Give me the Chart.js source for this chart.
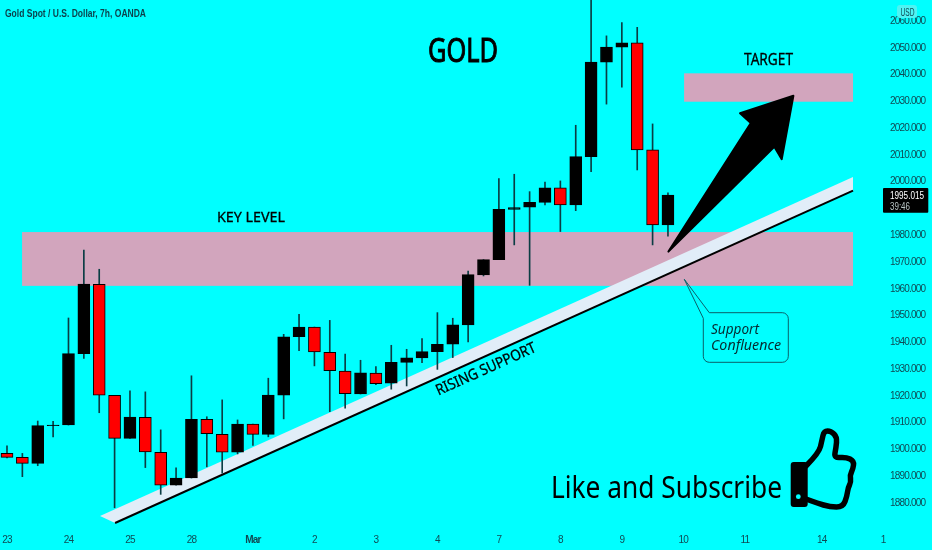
<!DOCTYPE html>
<html>
<head>
  <title>Gold Spot / U.S. Dollar</title>
  <script src="https://cdn.jsdelivr.net/npm/chart.js"></script>
  <style>
    body { margin: 0; padding: 0; background: #00ffff; overflow: hidden; }
    #chart { display: block; width: 932px !important; height: 550px !important; }
  </style>
</head>
<body>
  <canvas id="chart" width="932" height="550"></canvas>
  <script>
    // candles, oldest first
    const opens = [1898.5,1897.0,1894.8,1908.9,1909.1,1935.8,1961.7,1920.2,1904.1,1912.0,1898.9,1886.6,1889.3,1911.2,1905.6,1899.0,1909.5,1905.6,1920.3,1942.1,1945.7,1936.3,1929.3,1920.7,1928.5,1924.7,1932.5,1934.2,1936.5,1939.3,1946.5,1965.2,1970.9,1989.7,1990.5,1992.3,1997.7,1991.3,2009.4,2044.7,2050.3,2051.9,2011.9,1983.9];
    const highs = [1901.3,1898.5,1910.6,1910.5,1949.1,1974.5,1967.3,1920.2,1921.9,1921.5,1907.3,1893.1,1927.5,1912.2,1918.5,1911.0,1909.5,1926.6,1943.0,1950.5,1945.7,1948.2,1935.6,1933.3,1930.9,1938.9,1937.4,1941.4,1951.1,1949.0,1966.6,1970.9,2001.2,2002.8,1996.3,1999.9,2000.3,2021.1,2072.0,2054.5,2059.5,2057.7,2021.6,1995.9];
    const lows = [1896.8,1889.8,1893.9,1904.7,1909.1,1934.0,1913.7,1878.2,1904.1,1893.2,1883.2,1886.6,1889.3,1893.5,1891.1,1898.3,1901.5,1904.7,1911.4,1936.9,1931.2,1914.1,1915.4,1920.7,1924.2,1922.5,1923.7,1932.4,1929.9,1934.3,1940.2,1964.8,1970.9,1976.4,1961.3,1991.3,1981.4,1989.2,2003.8,2029.0,2035.3,2004.4,1976.4,1979.7];
    const closes = [1897.0,1894.8,1908.9,1909.1,1935.8,1961.8,1920.3,1904.1,1912.1,1899.1,1886.6,1889.3,1911.2,1905.9,1899.0,1909.5,1905.6,1920.3,1942.1,1945.7,1936.4,1929.4,1920.8,1928.6,1924.6,1932.5,1934.2,1936.5,1939.3,1946.5,1965.3,1970.9,1989.7,1990.3,1992.3,1997.7,1991.3,2009.4,2044.7,2050.3,2051.9,2011.9,1983.9,1995.0];

    const timeLabels = ['23','24','25','28','Mar','2','3','4','7','8','9','10','11','14','1'];
    const timeBars = [0,4,8,12,16,20,24,28,32,36,40,44,48,53,57];

    const keyLevel = [1961.1, 1981.2];
    const keyBars = [0.98, 55.04];
    const targetLevel = [2029.9, 2040.5];
    const targetBars = [44.05, 55.04];

    // rising support: band outline and the line under it, [bar, price]
    const supportBand = [[6.05,1875.1],[55.04,2001.8],[55.04,1996.7],[7.03,1872.5]];
    const supportLine = [[7.03,1872.5],[55.04,1996.7]];
    const arrowShape = [[43.03,1973.9],[48.39,2021.9],[47.69,2025.6],[51.16,2032.1],[50.4,2008.4],[49.92,2013.1]];

    const lastPrice = '1995.015';
    const countdown = '39:46';

    const bars = opens.map((o, i) => i);
    const tickColor = '#0f4a54';
    const sans = '"Liberation Sans", sans-serif';
    const noto = '"Noto Sans", sans-serif';

    function polygon(ctx, chart, pts) {
      const x = chart.scales.x, y = chart.scales.y;
      ctx.beginPath();
      pts.forEach((p, i) => {
        const px = x.getPixelForValue(p[0]), py = y.getPixelForValue(p[1]);
        if (i === 0) ctx.moveTo(px, py); else ctx.lineTo(px, py);
      });
    }

    // squeeze a string to the width it has in the picture
    function fitText(ctx, text, left, baseline, width, font, color, heavy) {
      ctx.save();
      ctx.font = font;
      ctx.fillStyle = color || '#000';
      ctx.textAlign = 'left';
      ctx.textBaseline = 'alphabetic';
      const w = ctx.measureText(text).width;
      ctx.translate(left, baseline);
      ctx.scale(width / w, 1);
      ctx.fillText(text, 0, 0);
      if (heavy) {
        ctx.strokeStyle = ctx.fillStyle;
        ctx.lineWidth = heavy;
        ctx.strokeText(text, 0, 0);
      }
      ctx.restore();
    }

    function drawThumb(ctx) {
      const pts = [[806,466],[819,453],[822,440],[824,431],[831,431],[837,437],[836,448],[834,458],[846,457],[854,461],[853,469],[850,475],[851,482],[848,488],[847,496],[843,507],[830,507],[817,503],[806,499]];
      ctx.save();
      ctx.fillStyle = '#000';
      ctx.beginPath();
      ctx.roundRect(790.7, 462, 17, 45, 3);
      ctx.fill();
      ctx.strokeStyle = '#000';
      ctx.lineWidth = 5.5;
      ctx.lineJoin = 'round';
      ctx.lineCap = 'round';
      ctx.beginPath();
      ctx.moveTo(pts[0][0], pts[0][1]);
      for (let i = 1; i < pts.length - 1; i++) {
        const mx = (pts[i][0] + pts[i + 1][0]) / 2, my = (pts[i][1] + pts[i + 1][1]) / 2;
        ctx.quadraticCurveTo(pts[i][0], pts[i][1], mx, my);
      }
      ctx.lineTo(pts[pts.length - 1][0], pts[pts.length - 1][1]);
      ctx.stroke();
      ctx.fillStyle = '#00ffff';
      ctx.beginPath();
      ctx.arc(798.3, 496.7, 2.4, 0, Math.PI * 2);
      ctx.fill();
      ctx.restore();
    }

    const drawings = {
      id: 'drawings',
      // axis labels are narrower than any installed font, tighten them while the axes draw
      beforeDraw(chart) {
        chart.ctx.letterSpacing = '-0.8px';
      },
      beforeDatasetsDraw(chart) {
        const ctx = chart.ctx, x = chart.scales.x, y = chart.scales.y;
        ctx.letterSpacing = '0px';
        ctx.save();
        ctx.fillStyle = '#d2a5bd';
        [[keyBars, keyLevel], [targetBars, targetLevel]].forEach(z => {
          const l = x.getPixelForValue(z[0][0]), r = x.getPixelForValue(z[0][1]);
          const t = y.getPixelForValue(z[1][1]), b = y.getPixelForValue(z[1][0]);
          ctx.fillRect(l, t, r - l, b - t);
        });
        ctx.fillStyle = '#e1edf8';
        polygon(ctx, chart, supportBand);
        ctx.closePath();
        ctx.fill();
        ctx.strokeStyle = '#000';
        ctx.lineWidth = 2;
        polygon(ctx, chart, supportLine);
        ctx.stroke();
        ctx.restore();
      },
      afterDatasetsDraw(chart) {
        const ctx = chart.ctx;
        ctx.save();
        // arrow
        ctx.fillStyle = '#000';
        ctx.strokeStyle = '#000';
        ctx.lineWidth = 2;
        ctx.lineJoin = 'round';
        polygon(ctx, chart, arrowShape);
        ctx.closePath();
        ctx.fill();
        ctx.stroke();

        // callout
        ctx.strokeStyle = '#0b5f68';
        ctx.lineWidth = 1;
        ctx.lineJoin = 'miter';
        ctx.beginPath();
        ctx.moveTo(684.3, 279.3);
        ctx.lineTo(709.3, 312.7);
        ctx.lineTo(782.3, 312.7);
        ctx.arcTo(788.3, 312.7, 788.3, 318.7, 6);
        ctx.lineTo(788.3, 356.3);
        ctx.arcTo(788.3, 362.3, 782.3, 362.3, 6);
        ctx.lineTo(709.3, 362.3);
        ctx.arcTo(703.3, 362.3, 703.3, 356.3, 6);
        ctx.lineTo(703.3, 318.3);
        ctx.closePath();
        ctx.stroke();
        fitText(ctx, 'Support', 711, 334, 48, 'italic 15px ' + noto, '#062a30');
        fitText(ctx, 'Confluence', 711, 350, 70, 'italic 15px ' + noto, '#062a30');

        // labels
        fitText(ctx, 'GOLD', 428, 61.5, 70, '33px ' + noto, '#000', 1);
        fitText(ctx, 'KEY LEVEL', 217, 222, 68, '15px ' + noto, '#000', 0.3);
        fitText(ctx, 'TARGET', 744, 65, 49, '16.5px ' + noto, '#000', 0.3);
        fitText(ctx, 'Like and Subscribe', 551, 498, 231, '31px ' + noto);
        ctx.save();
        ctx.translate(438.5, 395.5);
        ctx.rotate(-24.2 * Math.PI / 180);
        fitText(ctx, 'RISING SUPPORT', 0, 0, 108, '15px ' + noto, '#000', 0.3);
        ctx.restore();
        drawThumb(ctx);

        // header and price badges
        fitText(ctx, 'Gold Spot / U.S. Dollar, 7h, OANDA', 5, 17, 141, 'bold 11px ' + sans, '#0d3f4a');
        ctx.fillStyle = '#000';
        ctx.beginPath();
        ctx.roundRect(883, 188, 45.3, 24.7, 1);
        ctx.fill();
        fitText(ctx, lastPrice, 890, 198.5, 34, '10px ' + sans, '#fff');
        fitText(ctx, countdown, 890, 210, 20, '10px ' + sans, '#b8c4c4');
        ctx.fillStyle = '#4ff3f3';
        ctx.beginPath();
        ctx.roundRect(897, 5, 20, 13, 3);
        ctx.fill();
        fitText(ctx, 'USD', 900.5, 16, 14, '10px ' + sans, tickColor);
        ctx.restore();
      }
    };

    new Chart(document.getElementById('chart').getContext('2d'), {
      type: 'bar',
      data: {
        datasets: [
          {
            label: 'Body',
            data: bars.map(i => ({ x: i, y: [opens[i], closes[i]] })),
            backgroundColor: bars.map(i => closes[i] >= opens[i] ? '#000000' : '#ff0000'),
            borderColor: '#000000',
            borderWidth: 1,
            borderSkipped: false,
            barThickness: 12,
            grouped: false,
            order: 1
          },
          {
            label: 'Wick',
            data: bars.map(i => ({ x: i, y: [lows[i], highs[i]] })),
            backgroundColor: '#0b3d44',
            borderWidth: 0,
            barThickness: 1,
            grouped: false,
            order: 2
          }
        ]
      },
      options: {
        responsive: false,
        animation: false,
        parsing: { xAxisKey: 'x', yAxisKey: 'y' },
        layout: { padding: 0 },
        plugins: { legend: { display: false }, tooltip: { enabled: false } },
        scales: {
          x: {
            type: 'linear',
            offset: false,
            min: -0.455,
            max: 57.12,
            grid: { display: false, drawTicks: false, offset: false },
            border: { display: false },
            afterBuildTicks: axis => { axis.ticks = timeBars.map(v => ({ value: v })); },
            afterFit: axis => { axis.height = 27; axis.paddingLeft = 0; axis.paddingRight = 0; },
            ticks: {
              autoSkip: false,
              maxRotation: 0,
              padding: 11,
              color: tickColor,
              font: c => ({ family: sans, size: 10, weight: timeLabels[c.index] === 'Mar' ? 'bold' : 'normal' }),
              callback: (v) => timeLabels[timeBars.indexOf(v)]
            }
          },
          y: {
            type: 'linear',
            position: 'right',
            min: 1872.5,
            max: 2067.9,
            grid: { display: false, drawTicks: false },
            border: { display: false },
            afterFit: axis => { axis.width = 47; axis.paddingTop = 0; axis.paddingBottom = 0; },
            ticks: {
              stepSize: 10,
              includeBounds: false,
              autoSkip: false,
              padding: 5,
              color: tickColor,
              font: { family: sans, size: 10 },
              callback: v => v.toFixed(3)
            }
          }
        }
      },
      plugins: [drawings]
    });
  </script>
</body>
</html>
